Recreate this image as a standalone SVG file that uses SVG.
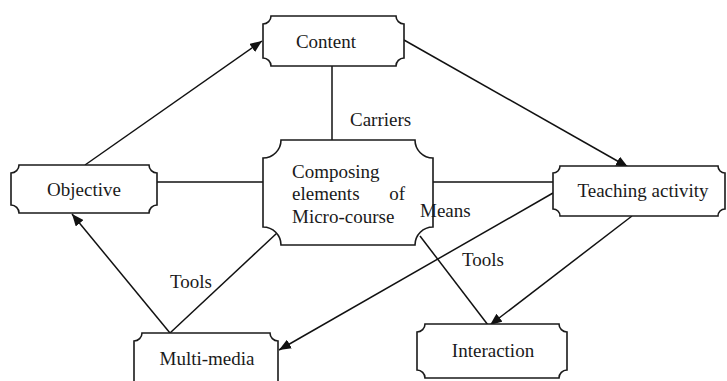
<svg xmlns="http://www.w3.org/2000/svg" width="727" height="381" viewBox="0 0 727 381" font-family="'Liberation Serif', 'Times New Roman', 'DejaVu Serif', serif">
<style>
.box{fill:#fff;stroke:#1a1a1a;stroke-width:1.6}
.ln{fill:none;stroke:#111;stroke-width:1.5}
text{font-family:'Liberation Serif','Times New Roman','DejaVu Serif',serif;font-size:19px;fill:#1a1a1a}
.c{text-anchor:middle}
</style>
<defs>
<marker id="ah" viewBox="0 0 12 10" refX="12" refY="5" markerWidth="12" markerHeight="10" markerUnits="userSpaceOnUse" orient="auto">
<path d="M0,0 L12,5 L0,10 Z" fill="#111"/>
</marker>
</defs>
<g id="connectors">
<line class="ln" x1="85" y1="165" x2="262" y2="41" marker-end="url(#ah)"/>
<line class="ln" x1="404" y1="40" x2="628" y2="167" marker-end="url(#ah)"/>
<line class="ln" x1="332" y1="66" x2="332" y2="140"/>
<line class="ln" x1="157" y1="182" x2="263" y2="182"/>
<line class="ln" x1="433" y1="182" x2="553" y2="182"/>
<line class="ln" x1="553" y1="193" x2="279" y2="350" marker-end="url(#ah)"/>
<line class="ln" x1="420" y1="236" x2="488" y2="325"/>
<line class="ln" x1="632" y1="216" x2="490" y2="325" marker-end="url(#ah)"/>
<line class="ln" x1="170" y1="333" x2="72" y2="214" marker-end="url(#ah)"/>
<line class="ln" x1="277" y1="233" x2="170" y2="333"/>
</g>
<g id="content">
<path class="box" d="M271,16 H396 A8,8 0 0 0 404,24 V58 A8,8 0 0 0 396,66 H271 A8,8 0 0 0 263,58 V24 A8,8 0 0 0 271,16 Z"/>
<text class="c" x="326" y="48">Content</text>
</g>
<g id="objective">
<path class="box" d="M19,165 H149 A8,8 0 0 0 157,173 V205 A8,8 0 0 0 149,213 H19 A8,8 0 0 0 11,205 V173 A8,8 0 0 0 19,165 Z"/>
<text class="c" x="84" y="196">Objective</text>
</g>
<g id="composing">
<path class="box" d="M281,140 H415 A18,18 0 0 0 433,158 V227 A18,18 0 0 0 415,245 H281 A18,18 0 0 0 263,227 V158 A18,18 0 0 0 281,140 Z"/>
<text x="292" y="178">Composing</text>
<text x="292" y="200">elements</text>
<text x="405" y="200" text-anchor="end">of</text>
<text x="292" y="223">Micro-course</text>
</g>
<g id="teaching">
<path class="box" d="M560,166 H718 A7,7 0 0 0 725,173 V209 A7,7 0 0 0 718,216 H560 A7,7 0 0 0 553,209 V173 A7,7 0 0 0 560,166 Z"/>
<text class="c" x="643" y="197">Teaching activity</text>
</g>
<g id="multimedia">
<path class="box" d="M142,333 H270 A8,8 0 0 0 278,341 V387 A8,8 0 0 0 270,395 H142 A8,8 0 0 0 134,387 V341 A8,8 0 0 0 142,333 Z"/>
<text class="c" x="207" y="365">Multi-media</text>
</g>
<g id="interaction">
<path class="box" d="M425,324 H559 A8,8 0 0 0 567,332 V370 A8,8 0 0 0 559,378 H425 A8,8 0 0 0 417,370 V332 A8,8 0 0 0 425,324 Z"/>
<text class="c" x="493" y="357">Interaction</text>
</g>
<g id="labels">
<text x="350" y="126">Carriers</text>
<text x="420" y="217">Means</text>
<text x="462" y="266">Tools</text>
<text x="170" y="288">Tools</text>
</g>
</svg>
